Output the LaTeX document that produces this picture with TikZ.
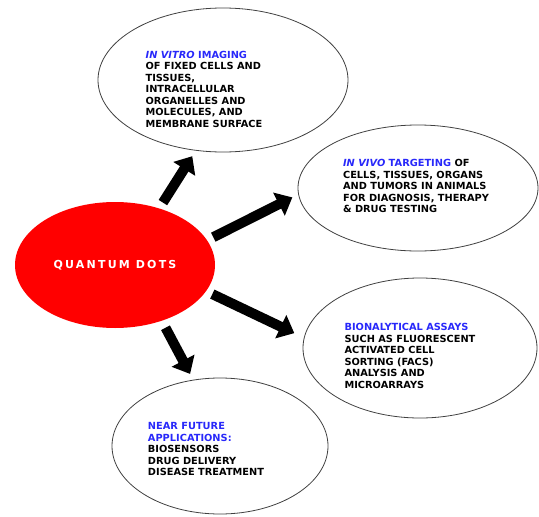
\documentclass[tikz,border=0pt]{standalone}
\usepackage{fontspec}
\setmainfont{DejaVu Sans}
\newfontfamily\qdfont[LetterSpace=20]{DejaVu Sans}
\usetikzlibrary{shapes.geometric, arrows.meta}
\definecolor{qdred}{RGB}{255,0,0}
\definecolor{headblue}{RGB}{40,40,250}
\tikzstyle{core} = [ellipse, minimum width=200pt, minimum height=126pt, inner sep=0pt, outer sep=0pt, fill=qdred, text=white, font=\qdfont\fontsize{11}{13}\selectfont\bfseries]
\tikzstyle{bubble} = [ellipse, inner sep=0pt, outer sep=0pt, draw=black!75, line width=0.8pt]
\tikzstyle{blurb} = [align=left, inner sep=0pt, font=\fontsize{9.8}{11.5}\selectfont\bfseries]
\tikzstyle{arrow} = [line width=10pt, -{Triangle[length=15pt,width=25pt]}]
\newcommand{\hd}[1]{\textcolor{headblue}{#1}}

\begin{document}
\begin{tikzpicture}[x=1pt, y=-1pt]
		\useasboundingbox (0,0) rectangle (539,517);
		\node (qd) [core] at (115,265) {QUANTUM DOTS};
		\node (vitro) [bubble, minimum width=250pt, minimum height=144pt] at (223,80) {};
		\node (vivo) [bubble, minimum width=240pt, minimum height=126pt] at (418,188) {};
		\node (assay) [bubble, minimum width=234pt, minimum height=140pt] at (420,348) {};
		\node (future) [bubble, minimum width=216pt, minimum height=136pt] at (220,446) {};
		\node (vitrotext) [blurb, xshift=-19pt, yshift=-9pt] at (vitro) {\hd{\textit{IN VITRO} IMAGING}\\ OF FIXED CELLS AND\\ TISSUES,\\ INTRACELLULAR\\ ORGANELLES AND\\ MOLECULES, AND\\ MEMBRANE SURFACE};
		\node (vivotext) [blurb, xshift=-2pt, yshift=2pt] at (vivo) {\hd{\textit{IN VIVO} TARGETING} OF\\ CELLS, TISSUES, ORGANS\\ AND TUMORS IN ANIMALS\\ FOR DIAGNOSIS, THERAPY\\ \& DRUG TESTING};
		\node (assaytext) [blurb, xshift=-10pt, yshift=-8pt] at (assay) {\hd{BIONALYTICAL ASSAYS}\\ SUCH AS FLUORESCENT\\ ACTIVATED CELL\\ SORTING (FACS)\\ ANALYSIS AND\\ MICROARRAYS};
		\node (futuretext) [blurb, xshift=-14pt, yshift=-3pt] at (future) {\hd{NEAR FUTURE}\\ \hd{APPLICATIONS:}\\ BIOSENSORS\\ DRUG DELIVERY\\ DISEASE TREATMENT};
		\draw [arrow, shorten <=7pt, shorten >=7pt] (qd.52) -- (vitro.249);
		\draw [arrow, shorten <=7pt, shorten >=7pt] (qd.15) -- (vivo.183);
		\draw [arrow, shorten <=7pt, shorten >=11pt] (qd.344) -- (assay.175);
		\draw [arrow, shorten <=8pt, shorten >=7pt] (qd.310) -- (future.112);
	\end{tikzpicture}
\end{document}
